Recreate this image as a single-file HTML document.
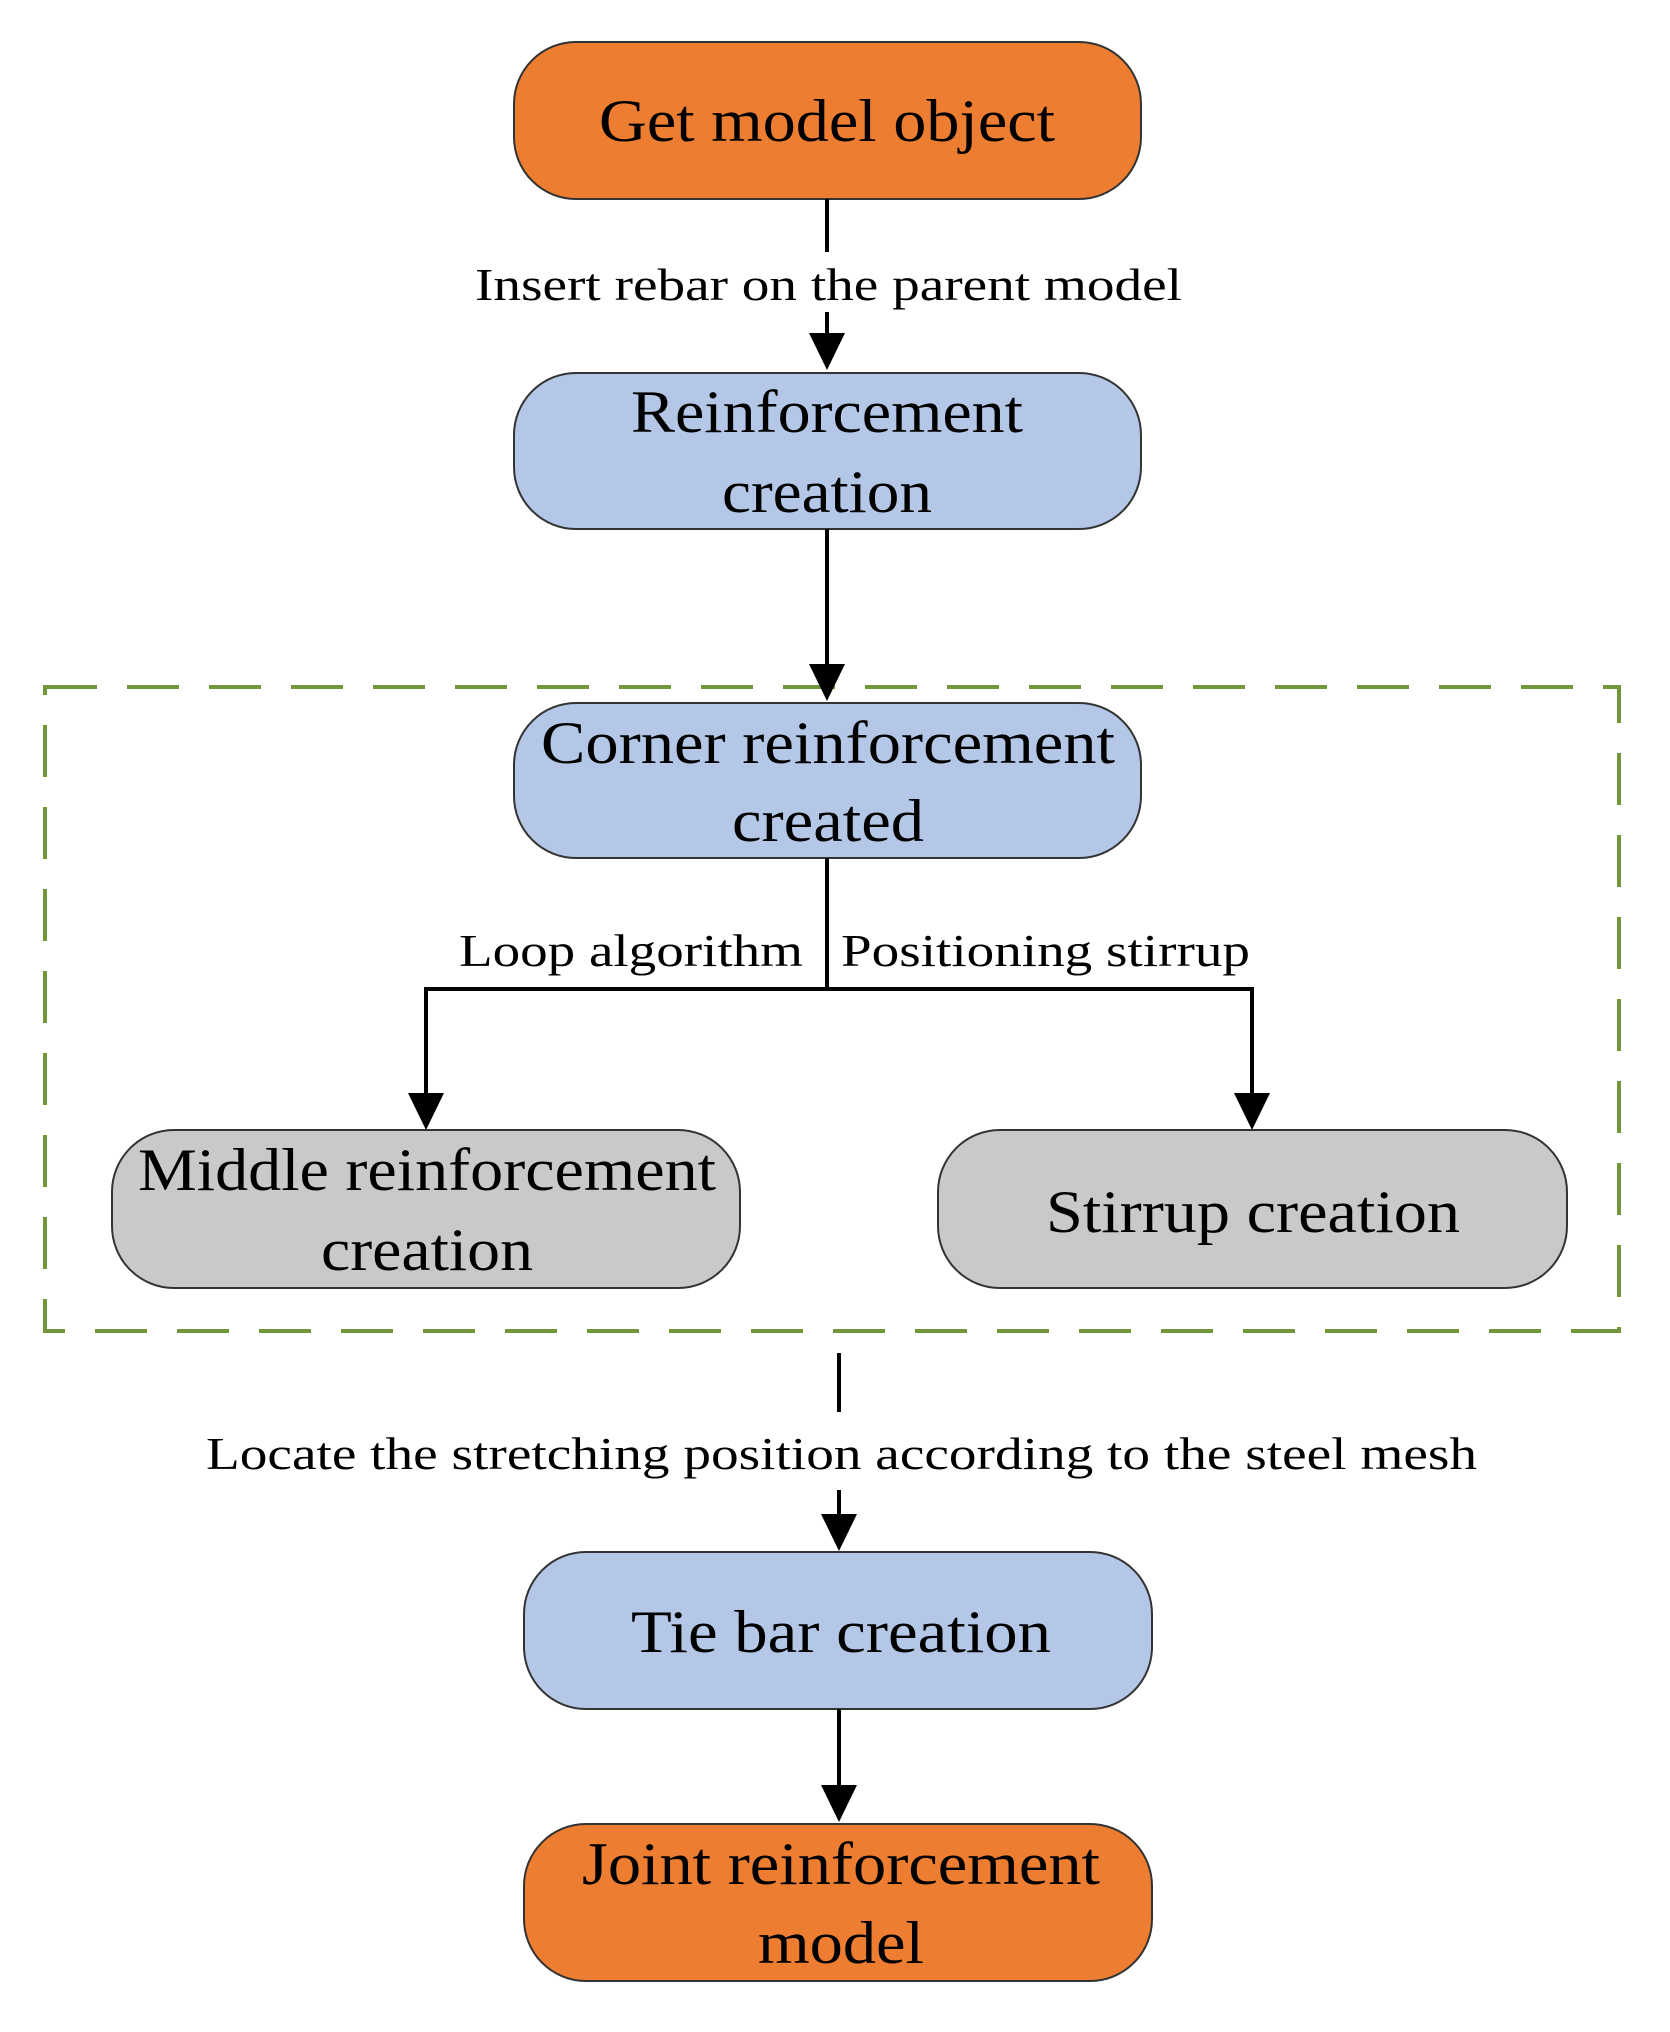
<!DOCTYPE html>
<html><head><meta charset="utf-8"><style>html,body{margin:0;padding:0;background:#fff}svg{display:block}</style></head>
<body>
<svg width="1670" height="2032" viewBox="0 0 1670 2032" xmlns="http://www.w3.org/2000/svg" font-family="'Liberation Serif', serif" fill="#000">
<defs>
<marker id="a" markerWidth="10" markerHeight="10" refX="10" refY="5" orient="auto" markerUnits="userSpaceOnUse" viewBox="0 0 10 10"></marker>
</defs>
<g stroke="#333" stroke-width="2">
<rect x="514" y="42" width="627" height="157" rx="62" fill="#ED7D31"/>
<rect x="514" y="373" width="627" height="156" rx="62" fill="#B4C7E7"/>
<rect x="514" y="703" width="627" height="155" rx="62" fill="#B4C7E7"/>
<rect x="112" y="1130" width="628" height="158" rx="62" fill="#C9C9C9"/>
<rect x="938" y="1130" width="629" height="158" rx="62" fill="#C9C9C9"/>
<rect x="524" y="1552" width="628" height="157" rx="62" fill="#B4C7E7"/>
<rect x="524" y="1824" width="628" height="157" rx="62" fill="#ED7D31"/>
</g>
<rect x="45" y="687" width="1574" height="644" fill="none" stroke="#70963A" stroke-width="4" stroke-dasharray="52 30"/>
<g stroke="#000" stroke-width="4" fill="none">
<line x1="827" y1="199" x2="827" y2="252"/>
<line x1="827" y1="312" x2="827" y2="340"/>
<line x1="827" y1="529" x2="827" y2="668"/>
<line x1="827" y1="858" x2="827" y2="989"/>
<polyline points="426,1098 426,989 1252,989 1252,1098"/>
<line x1="839" y1="1353" x2="839" y2="1412"/>
<line x1="839" y1="1490" x2="839" y2="1520"/>
<line x1="839" y1="1709" x2="839" y2="1790"/>
</g>
<g fill="#000">
<polygon points="809,333 845,333 827,370"/>
<polygon points="809,664 845,664 827,701"/>
<polygon points="408,1093 444,1093 426,1130"/>
<polygon points="1234,1093 1270,1093 1252,1130"/>
<polygon points="821,1514 857,1514 839,1551"/>
<polygon points="821,1785 857,1785 839,1822"/>
</g>
<g font-size="60" text-anchor="middle">
<text x="827" y="141" textLength="456" lengthAdjust="spacingAndGlyphs">Get model object</text>
<text x="827" y="432" textLength="392" lengthAdjust="spacingAndGlyphs">Reinforcement</text>
<text x="827" y="512" textLength="210" lengthAdjust="spacingAndGlyphs">creation</text>
<text x="828" y="763" textLength="574" lengthAdjust="spacingAndGlyphs">Corner reinforcement</text>
<text x="828" y="841" textLength="192" lengthAdjust="spacingAndGlyphs">created</text>
<text x="427" y="1190" textLength="578" lengthAdjust="spacingAndGlyphs">Middle reinforcement</text>
<text x="427" y="1270" textLength="212" lengthAdjust="spacingAndGlyphs">creation</text>
<text x="1253" y="1232" textLength="414" lengthAdjust="spacingAndGlyphs">Stirrup creation</text>
<text x="841" y="1652" textLength="420" lengthAdjust="spacingAndGlyphs">Tie bar creation</text>
<text x="841" y="1884" textLength="518" lengthAdjust="spacingAndGlyphs">Joint reinforcement</text>
<text x="841" y="1963" textLength="166" lengthAdjust="spacingAndGlyphs">model</text>
</g>
<g font-size="46">
<text x="475" y="300" textLength="707" lengthAdjust="spacingAndGlyphs">Insert rebar on the parent model</text>
<text x="459" y="966" textLength="344" lengthAdjust="spacingAndGlyphs">Loop algorithm</text>
<text x="841" y="966" textLength="409" lengthAdjust="spacingAndGlyphs">Positioning stirrup</text>
<text x="206" y="1469" textLength="1271" lengthAdjust="spacingAndGlyphs">Locate the stretching position according to the steel mesh</text>
</g>
</svg>
</body></html>
